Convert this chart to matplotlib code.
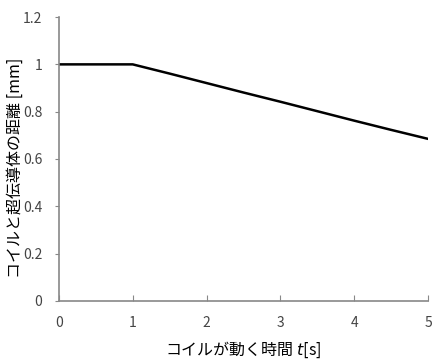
import matplotlib
matplotlib.use('Agg')
import matplotlib.pyplot as plt

plt.rcParams['font.family'] = ['Noto Sans CJK JP', 'DejaVu Sans']

time_s = [0, 1, 1.5, 2, 2.5, 3, 3.5, 4, 4.5, 5]
distance_mm = [1.0, 1.0, 0.961, 0.921, 0.881, 0.842, 0.802, 0.762, 0.723, 0.685]

fig = plt.figure(figsize=(4.36, 3.63), dpi=100)
ax = fig.add_axes([0.135, 0.171, 0.847, 0.782])

ax.plot(time_s, distance_mm, color='black', linewidth=1.8)

ax.set_xlim(0, 5)
ax.set_ylim(0, 1.2)
ax.set_xticks([0, 1, 2, 3, 4, 5])
ax.set_yticks([0, 0.2, 0.4, 0.6, 0.8, 1.0, 1.2])
ax.set_yticklabels(['0', '0.2', '0.4', '0.6', '0.8', '1', '1.2'])

for s in ['top', 'right']:
    ax.spines[s].set_visible(False)
for s in ['left', 'bottom']:
    ax.spines[s].set_color('#888888')
    ax.spines[s].set_linewidth(1.2)

ax.tick_params(axis='x', direction='in', length=4, color='#888888', labelsize=10, labelcolor='#444444', pad=11)
ax.tick_params(axis='y', direction='out', length=3, color='#888888', labelsize=10, labelcolor='#444444', pad=9)

ax.set_xlabel('コイルが動く時間 $t$[s]', fontsize=11.5, labelpad=7)
ax.set_ylabel('コイルと超伝導体の距離 [mm]', fontsize=11.5)
ax.yaxis.set_label_coords(-0.095, 0.47)

fig.savefig('out.png', dpi=100)
